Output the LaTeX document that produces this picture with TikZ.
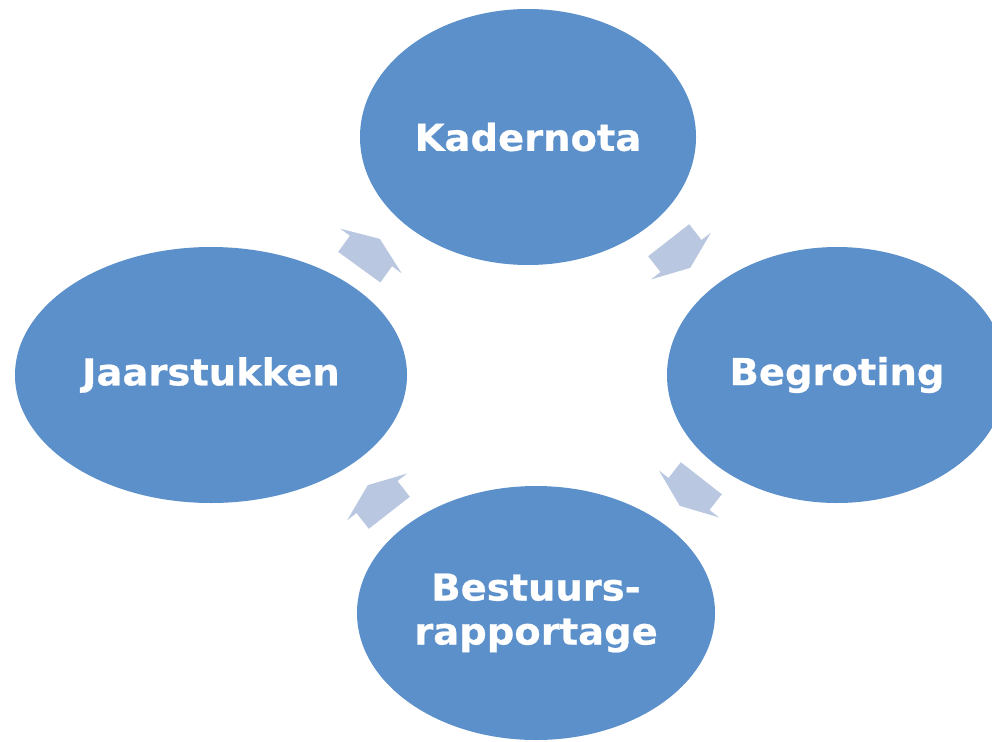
\documentclass[tikz,border=0pt]{standalone}
\usepackage{fontspec}
\setmainfont{DejaVu Sans}
\newfontfamily\heavyfont{DejaVu Sans Bold}[FakeBold=0.6]
\usetikzlibrary{shapes.geometric}
\definecolor{ellblue}{RGB}{92,144,202}
\definecolor{arrblue}{RGB}{186,199,224}
\tikzset{
  phase/.style={ellipse, fill=ellblue, inner sep=0pt, text=white, align=center,
    font=\fontsize{37}{44}\selectfont\heavyfont},
  blockarrow/.style={fill=arrblue}
}
\newcommand{\wide}[1]{\scalebox{1.04}[1]{#1}}
\newcommand{\cyclearrowat}[2]{%
  \begin{scope}[shift={#1}, rotate=#2]
    \fill[blockarrow] (-20,-26) -- (0,-26) -- (0,-38) -- (15,0) -- (0,38) -- (0,26) -- (-20,26) -- cycle;
  \end{scope}}
\begin{document}
\begin{tikzpicture}[x=1pt,y=1pt]
\useasboundingbox (0,0) rectangle (992,-741);
\clip (0,0) rectangle (992,-741);
\fill[white] (0,0) rectangle (992,-741);
\node[phase, minimum width=336pt, minimum height=256pt] (kader) at (528,-137) {\wide{Kadernota}};
\node[phase, minimum width=340pt, minimum height=256pt] (begr) at (837,-375) {\wide{Begroting}};
\node[phase, minimum width=358pt, minimum height=254pt] (best) at (536,-613) {\wide{Bestuurs-}\\\wide{rapportage}};
\node[phase, minimum width=392pt, minimum height=256pt] (jaar) at (211,-375) {\wide{Jaarstukken}};
\cyclearrowat{(371,-251)}{54}
\cyclearrowat{(681,-256)}{-52}
\cyclearrowat{(689,-494)}{-128}
\cyclearrowat{(377,-497)}{128}
\end{tikzpicture}
\end{document}
